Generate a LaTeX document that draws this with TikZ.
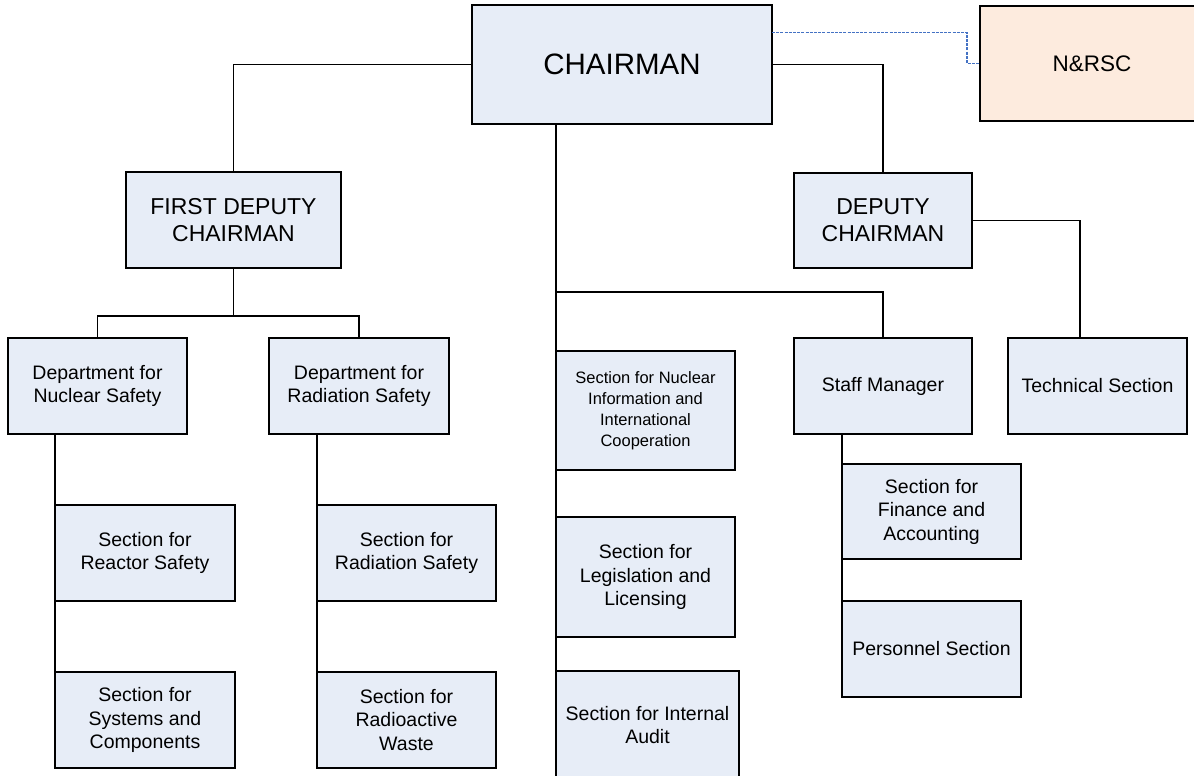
\documentclass[tikz,border=0pt]{standalone}
\usepackage{fontspec}
\setmainfont{Liberation Sans}
\usetikzlibrary{calc}
\definecolor{boxblue}{RGB}{231,237,247}
\definecolor{boxpeach}{RGB}{253,235,222}
\definecolor{dashblue}{RGB}{68,114,196}
\tikzset{
  orgbox/.style={draw=black, line width=1.8pt, fill=boxblue, inner sep=0pt, outer sep=0pt, align=center, font=\fontsize{19.5}{23.5}\selectfont},
  bigbox/.style={orgbox, font=\fontsize{23}{27}\selectfont},
  smallbox/.style={orgbox, font=\fontsize{16.5}{21}\selectfont},
  link/.style={draw=black, line width=1.5pt},
  dashlink/.style={draw=dashblue, line width=1.2pt, dash pattern=on 3pt off 1.2pt}
}
\begin{document}
\begin{tikzpicture}[x=1pt,y=-1pt]
\useasboundingbox (0,0) rectangle (1194,776);
% top
\node[orgbox, font=\fontsize{29.5}{34}\selectfont, minimum width=300pt, minimum height=119pt] (chair) at (622,64.5) {CHAIRMAN};
\node[orgbox, fill=boxpeach, font=\fontsize{22.5}{26}\selectfont, minimum width=224pt, minimum height=115pt] (nrsc) at (1092,63.5) {N\&RSC};
% deputies
\node[bigbox, minimum width=215pt, minimum height=96pt] (fdc) at (233.5,220) {FIRST DEPUTY\\CHAIRMAN};
\node[bigbox, minimum width=178pt, minimum height=95pt] (dc) at (883,220.5) {DEPUTY\\CHAIRMAN};
% departments
\node[orgbox, minimum width=179pt, minimum height=96pt] (dns) at (97.5,386) {Department for\\Nuclear Safety};
\node[orgbox, minimum width=180pt, minimum height=96pt] (drs) at (359,386) {Department for\\Radiation Safety};
% sections under departments
\node[orgbox, minimum width=180pt, minimum height=96pt] (srs) at (145,553) {Section for\\Reactor Safety};
\node[orgbox, minimum width=180pt, minimum height=96pt] (ssc) at (145,720) {Section for\\Systems and\\Components};
\node[orgbox, minimum width=179pt, minimum height=96pt] (srad) at (406.5,553) {Section for\\Radiation Safety};
\node[orgbox, minimum width=179pt, minimum height=96pt] (srw) at (406.5,720) {Section for\\Radioactive\\Waste};
% middle column
\node[smallbox, minimum width=179pt, minimum height=119pt] (sni) at (645.5,410.5) {Section for Nuclear\\Information and\\International\\Cooperation};
\node[orgbox, minimum width=179pt, minimum height=120pt] (sll) at (645.5,577) {Section for\\Legislation and\\Licensing};
\node[orgbox, minimum width=183pt, minimum height=108pt] (sia) at (647.5,725) {Section for Internal\\Audit};
% right part
\node[orgbox, minimum width=178pt, minimum height=96pt] (sm) at (883,386) {Staff Manager};
\node[orgbox, minimum width=179pt, minimum height=96pt] (ts) at (1097.5,386) {Technical Section};
\node[orgbox, minimum width=179pt, minimum height=95pt] (sfa) at (931.5,511.5) {Section for\\Finance and\\Accounting};
\node[orgbox, minimum width=179pt, minimum height=96pt] (ps) at (931.5,649) {Personnel Section};
% junctions
\coordinate (chs) at ([xshift=-66pt]chair.south);
\coordinate (jmid) at (556,292);
\coordinate (jfdc) at (233.5,316);
\coordinate (tstop) at ([xshift=-17.5pt]ts.north);
% connectors
\draw[dashlink] ([yshift=32pt]chair.east) -- ++(195,0) |- (nrsc.west);
\draw[link] (chair.west) -| (fdc.north);
\draw[link] (chair.east) -| (dc.north);
\draw[link] (chs) -- (sia.north west);
\draw[link] (jmid) -| (sm.north);
\draw[link] (fdc.south) -- (jfdc);
\draw[link] (dns.north) |- (jfdc) -| (drs.north);
\draw[link] (dns.south -| srs.west) -- (ssc.north west);
\draw[link] (drs.south -| srad.west) -- (srw.north west);
\draw[link] (dc.east) -| (tstop);
\draw[link] (sm.south -| sfa.west) -- (ps.north west);
\end{tikzpicture}
\end{document}
